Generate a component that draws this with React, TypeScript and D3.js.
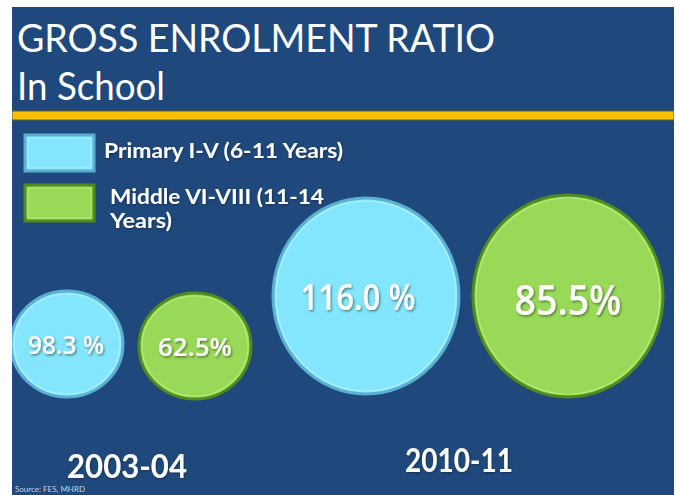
import React from "react";
import * as d3 from "d3";

const years = ["2003-04", "2010-11"];
const seriesNames = ["Primary I-V (6-11 Years)", "Middle VI-VIII (11-14 Years)"];
const legendLines = [["Primary I-V (6-11 Years)"], ["Middle VI-VIII (11-14", "Years)"]];
const primaryValues = [98.3, 116.0];
const middleValues = [62.5, 85.5];
const primaryLabels = ["98.3 %", "116.0 %"];
const middleLabels = ["62.5%", "85.5%"];
const titleText = "GROSS ENROLMENT RATIO";
const subtitleText = "In School";
const sourceText = "Source: FES, MHRD";

const W = 676;
const H = 495;
const FONT = "Lato, 'Open Sans', sans-serif";
const LABEL_FONT = "'Open Sans', Lato, sans-serif";

const fills = ["#84E6FC", "#98D957"];
const strokes = ["#5AAFD3", "#4E8A1E"];
const inner = ["#B5F2FF", "#B9EC7E"];

export default function App() {
  // layout scales
  const groupX = d3.scaleOrdinal<string, number>().domain(years).range([131, 467]);
  const groupY = d3.scaleOrdinal<string, number>().domain(years).range([345, 296]);
  const rxScale = d3.scaleOrdinal<string, number>().domain(years).range([56, 93]);
  const ryScale = d3.scaleOrdinal<string, number>().domain(years).range([53, 98]);
  const labelSize = d3.scaleOrdinal<string, number>().domain(years).range([26, 36]);
  const side = d3.scaleOrdinal<string, number>().domain(seriesNames).range([-1, 1]);
  const labelW = d3.scaleOrdinal<string, number>().domain(["98.3 %", "62.5%", "116.0 %", "85.5%"]).range([76, 74, 115, 107]);

  const bubbles: any[] = [];
  years.forEach((y, i) => {
    [primaryValues, middleValues].forEach((vals, s) => {
      const name = seriesNames[s];
      const rx = rxScale(y);
      const ry = ryScale(y);
      const extra = s === 1 ? 2 : 0;
      const cx = groupX(y) + side(name) * (rx + 8);
      bubbles.push({
        key: y + name,
        year: y,
        s,
        value: vals[i],
        label: (s === 0 ? primaryLabels : middleLabels)[i],
        cx,
        cy: groupY(y) + (i === 0 ? (s === 1 ? 1 : -1) : 0),
        rx: rx + (i === 1 ? extra : 0),
        ry: ry + (i === 1 ? extra * 1.5 : 0),
      });
    });
  });

  return (
    <svg width={W} height={H} style={{ position: "absolute", left: 0, top: 0, background: "#fff" }}>
      <defs>
        <filter id="ts" x="-10%" y="-10%" width="130%" height="140%">
          <feDropShadow dx="1.2" dy="1.5" stdDeviation="1" floodColor="#000" floodOpacity="0.45" />
        </filter>
        <filter id="ts2" x="-10%" y="-10%" width="130%" height="140%">
          <feDropShadow dx="0.8" dy="1" stdDeviation="0.8" floodColor="#000" floodOpacity="0.35" />
        </filter>
        <clipPath id="panel">
          <rect x={12} y={7} width={662} height={488} />
        </clipPath>
      </defs>
      <rect x={12} y={7} width={662} height={488} fill="#1F497C" />
      <g clipPath="url(#panel)">
        {/* title */}
        <text x={17} y={52} fill="#fff" fontFamily={FONT} fontSize={38} textLength={478} lengthAdjust="spacingAndGlyphs">
          {titleText}
        </text>
        <text x={17} y={100} fill="#fff" fontFamily={FONT} fontSize={38} textLength={148} lengthAdjust="spacingAndGlyphs">
          {subtitleText}
        </text>
        {/* yellow band */}
        <rect x={12} y={111} width={662} height={9} fill="#FFC000" stroke="#56643A" strokeWidth={1} />

        {/* legend */}
        {seriesNames.map((n, s) => (
          <g key={n}>
            <rect x={25} y={135 + s * 50} width={69} height={36} fill={fills[s]} stroke={strokes[s]} strokeWidth={3} />
            <rect x={28} y={138 + s * 50} width={63} height={30} fill="none" stroke={inner[s]} strokeWidth={1} opacity={0.8} />
            {legendLines[s].map((ln, li) => (
              <text
                key={li}
                x={s === 0 ? 104 : 110}
                y={158 + s * 46 + li * 24}
                fill="#fff"
                fontFamily={FONT}
                fontWeight={700}
                fontSize={21}
                filter="url(#ts2)"
                textLength={s === 0 ? 239 : li === 0 ? 214 : 62}
                lengthAdjust="spacingAndGlyphs"
              >
                {ln}
              </text>
            ))}
          </g>
        ))}

        {/* bubbles */}
        {bubbles.map((b) => (
          <g key={b.key}>
            <ellipse cx={b.cx} cy={b.cy} rx={b.rx} ry={b.ry} fill={fills[b.s]} stroke={strokes[b.s]} strokeWidth={3} />
            <ellipse cx={b.cx} cy={b.cy} rx={b.rx - 3} ry={b.ry - 3} fill="none" stroke={inner[b.s]} strokeWidth={1.2} opacity={0.9} />
            <text
              x={b.cx - (b.s === 0 ? 1 : 0) * (b.year === years[1] ? 8 : 1)}
              y={b.cy + labelSize(b.year) * 0.38 + (b.year === years[1] && b.s === 1 ? 5 : 0)}
              textAnchor="middle"
              fill="#fff"
              fontFamily={LABEL_FONT}
              fontWeight={600}
              fontSize={labelSize(b.year) + (b.year === years[1] && b.s === 1 ? 6 : 0)}
              filter="url(#ts)"
              textLength={labelW(b.label)}
              lengthAdjust="spacingAndGlyphs"
            >
              {b.label}
            </text>
          </g>
        ))}

        {/* year labels */}
        {years.map((y, i) => (
          <text
            key={y}
            x={groupX(y) - 4 - i * 4}
            y={i === 0 ? 478 : 472}
            textAnchor="middle"
            fill="#fff"
            fontFamily={FONT}
            fontWeight={700}
            fontSize={33}
            filter="url(#ts2)"
            textLength={i === 0 ? 120 : 108}
            lengthAdjust="spacingAndGlyphs"
          >
            {y}
          </text>
        ))}

        <text x={15} y={492} fill="#C8D0DC" fontFamily={FONT} fontSize={8}>
          {sourceText}
        </text>
      </g>
    </svg>
  );
}
